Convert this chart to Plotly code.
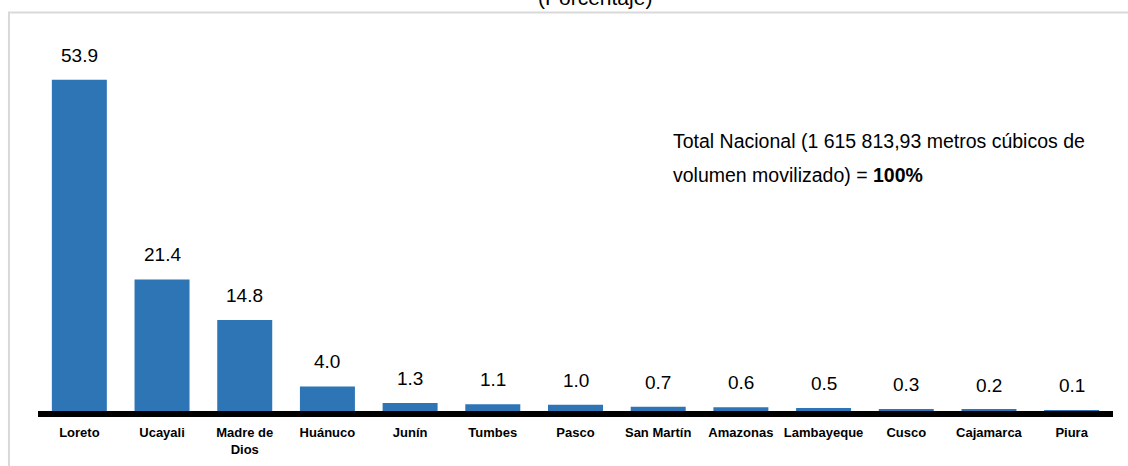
import plotly.graph_objects as go

categories = ["Loreto", "Ucayali", "Madre de<br>Dios", "Huánuco", "Junín", "Tumbes", "Pasco",
              "San Martín", "Amazonas", "Lambayeque", "Cusco", "Cajamarca", "Piura"]
values = [53.9, 21.4, 14.8, 4.0, 1.3, 1.1, 1.0, 0.7, 0.6, 0.5, 0.3, 0.2, 0.1]
title_text = "(Porcentaje)"
note_line1 = "Total Nacional (1 615 813,93 metros cúbicos de"
note_line2 = "volumen movilizado) = <b>100%</b>"

FONT = "Liberation Sans, Arial, sans-serif"
BAR_COLOR = "#2E75B6"

fig = go.Figure()
fig.add_trace(go.Bar(
    x=categories, y=values,
    marker=dict(color=BAR_COLOR, line=dict(width=0)),
    hoverinfo="x+y",
))

annotations = []
for c, v in zip(categories, values):
    annotations.append(dict(
        x=c, y=v, xref="x", yref="y", text=f"{v:.1f}", showarrow=False,
        yanchor="bottom", xanchor="center", yshift=12,
        font=dict(family=FONT, size=19, color="#000000"),
    ))

annotations += [
    dict(x=0.518, xref="paper", y=1.006, yref="paper", text=title_text, showarrow=False,
         xanchor="center", yanchor="bottom", font=dict(family=FONT, size=21, color="#000000")),
    dict(x=0.5888, xref="paper", y=0.6467, yref="paper", text=note_line1, showarrow=False,
         xanchor="left", yanchor="bottom", align="left",
         font=dict(family=FONT, size=19.5, color="#000000")),
    dict(x=0.5888, xref="paper", y=0.5613, yref="paper", text=note_line2, showarrow=False,
         xanchor="left", yanchor="bottom", align="left",
         font=dict(family=FONT, size=19.5, color="#000000")),
]

fig.update_layout(
    width=1128, height=466,
    margin=dict(l=38, r=15, t=13, b=55, autoexpand=False),
    paper_bgcolor="white", plot_bgcolor="white",
    showlegend=False,
    bargap=0.335,
    annotations=annotations,
    shapes=[dict(type="rect", xref="paper", yref="paper",
                 x0=-0.027, x1=1.2, y0=-0.5, y1=1.0013,
                 line=dict(color="#d9d9d9", width=2), fillcolor="rgba(0,0,0,0)", layer="below")],
    xaxis=dict(
        type="category", range=[-0.5, 12.5], automargin=False,
        showline=True, linecolor="black", linewidth=6,
        ticks="", showgrid=False, zeroline=False, tickangle=0,
        tickfont=dict(family=FONT, size=13, color="#000000"),
        ticklabelstandoff=4,
    ),
    yaxis=dict(
        range=[0, 64.75], visible=False, showgrid=False, zeroline=False, automargin=False,
    ),
)

# bold category labels
fig.update_xaxes(tickvals=categories, ticktext=[f"<b>{c}</b>" for c in categories])

fig.write_html("out.html", config={"displayModeBar": False},
               post_script="document.body.style.margin='0';")
